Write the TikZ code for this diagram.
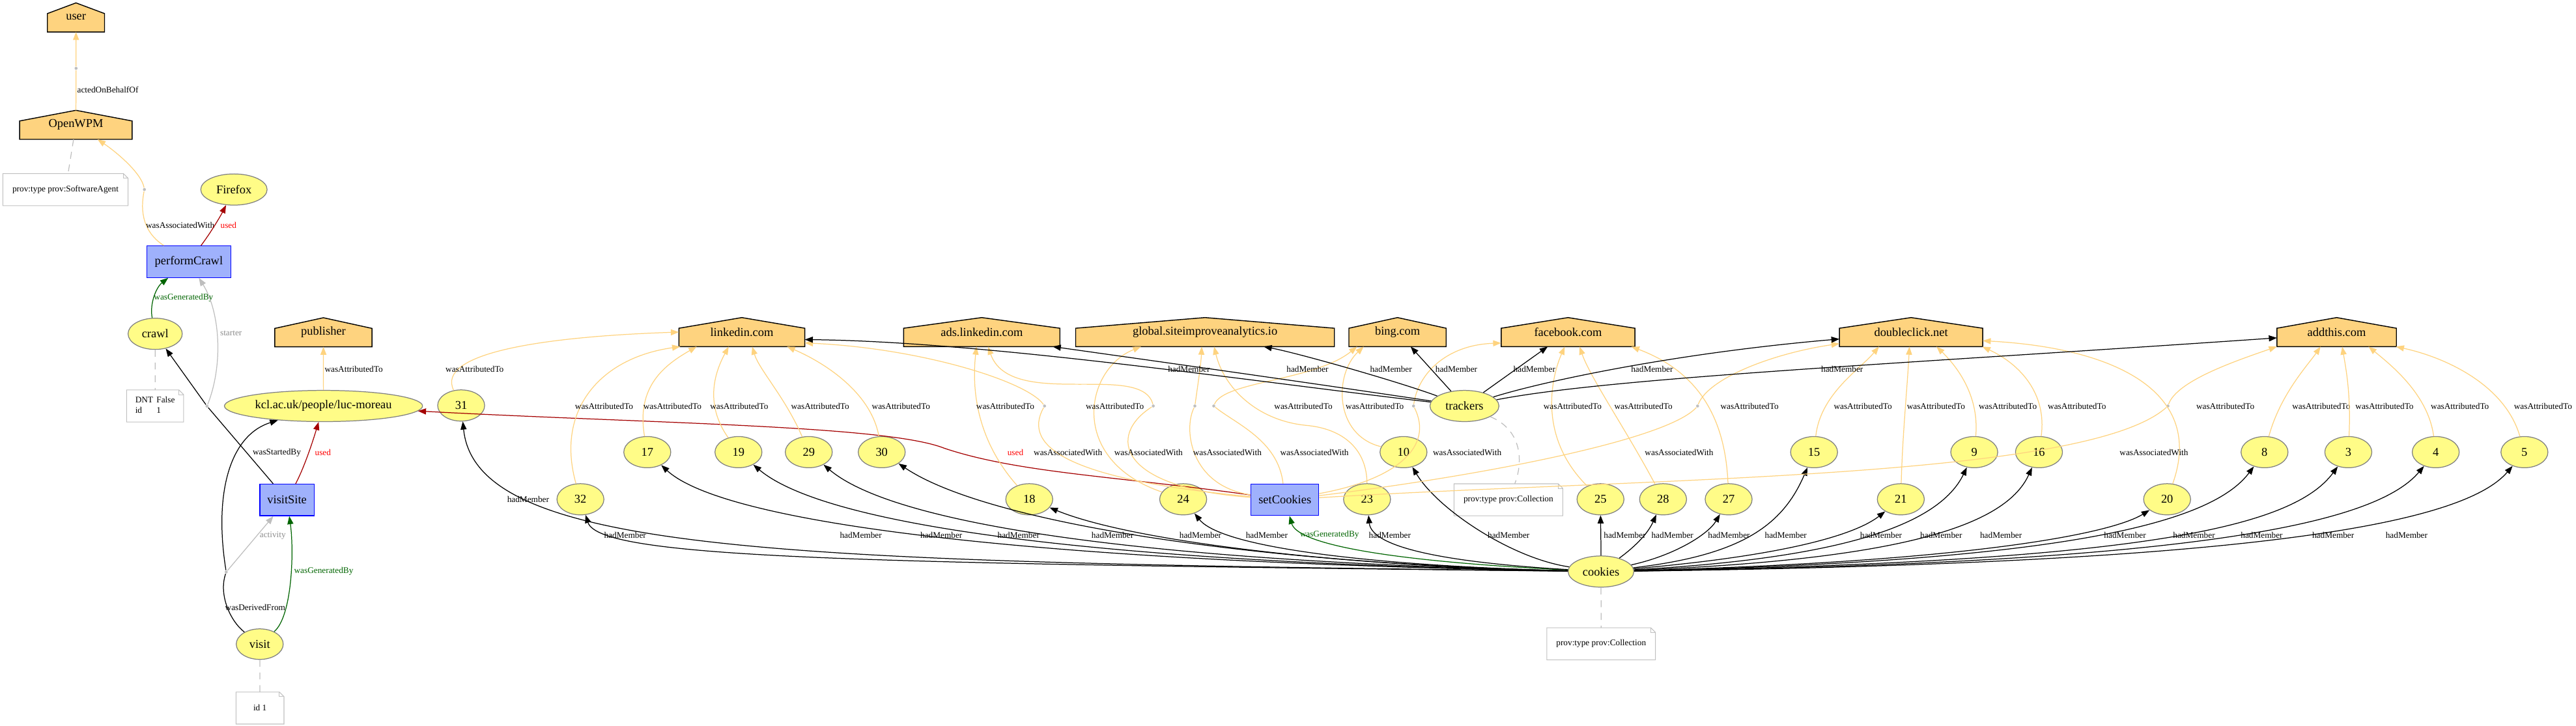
\documentclass[tikz,border=0pt]{standalone}
\usepackage{fontspec}
\setmainfont{Liberation Serif}
\usetikzlibrary{arrows.meta,shapes.geometric,backgrounds}

\definecolor{agentfill}{HTML}{FED37F}
\definecolor{entfill}{HTML}{FFFC87}
\definecolor{entline}{HTML}{808080}
\definecolor{actfill}{HTML}{9FB1FC}
\definecolor{usedline}{HTML}{A40000}
\definecolor{genline}{HTML}{006400}
\definecolor{auxgray}{HTML}{BEBEBE}
\definecolor{auxtext}{HTML}{8C8C8C}
\definecolor{notegray}{HTML}{C0C0C0}

\newcommand{\nodefont}{\fontsize{10.4}{12}\selectfont}
\newcommand{\lblfont}{\fontsize{7.5}{9}\selectfont}

\tikzset{
  agent/.style={rectangle, minimum height=0.86cm, inner sep=1pt, font=\nodefont},
  ent/.style={ellipse, draw=entline, fill=entfill, minimum width=1.43cm, minimum height=0.95cm, inner sep=1pt, font=\nodefont},
  act/.style={rectangle, draw=blue, fill=actfill, minimum height=0.96cm, inner sep=1pt, font=\nodefont},
  note/.style={rectangle, minimum height=0.95cm, inner sep=1pt, font=\lblfont},
  blank/.style={circle, fill=auxgray, inner sep=0pt, minimum size=2.6pt},
  lbl/.style={font=\lblfont, anchor=west, inner sep=0pt},
  hm/.style={->, black},
  attr/.style={agentfill},
  used/.style={->, usedline},
  gen/.style={->, genline},
  aux/.style={->, auxgray},
  link/.style={auxgray, dash pattern=on 6pt off 5pt},
}

\begin{document}
\begin{tikzpicture}[x=0.05cm, y=-0.05cm, line width=0.7pt, >={Triangle[length=7pt,width=5.2pt]}]
\useasboundingbox (0,0) rectangle (1568,442);

\node[agent, minimum width=1.715cm] (user) at (46.25,10.6) {user};
\node[agent, minimum width=3.4cm] (wpm) at (46.2,76) {OpenWPM};
\node[agent, minimum width=2.935cm] (pub) at (196.85,202.3) {publisher};
\node[agent, minimum width=3.805cm] (li) at (451.55,202.2) {linkedin.com};
\node[agent, minimum width=4.73cm] (adsli) at (597.6,202.2) {ads.linkedin.com};
\node[agent, minimum width=7.85cm] (gsi) at (733.5,202.2) {global.siteimproveanalytics.io};
\node[agent, minimum width=2.935cm] (bing) at (850.65,202.2) {bing.com};
\node[agent, minimum width=4.045cm] (fb) at (954.45,202.2) {facebook.com};
\node[agent, minimum width=4.335cm] (dc) at (1163.25,202.2) {doubleclick.net};
\node[agent, minimum width=3.61cm] (adt) at (1422.3,202.2) {addthis.com};

\begin{scope}[on background layer]
\foreach \a in {user,wpm,pub,li,adsli,gsi,bing,fb,dc,adt}
  \draw[fill=agentfill, line width=0.8pt] (\a.south west) -- (\a.south east) -- ([yshift=-9.25pt]\a.north east)
    -- (\a.north) -- ([yshift=-9.25pt]\a.north west) -- cycle;
\end{scope}

\node[act, minimum width=2.545cm] (pc) at (114.95,159.35) {performCrawl};
\node[act, minimum width=1.65cm] (vs) at (174.7,304.4) {visitSite};
\node[act, minimum width=2.06cm] (sc) at (782.1,304.3) {setCookies};

\node[ent, minimum width=2.02cm] (ffx) at (142.4,115.4) {Firefox};
\node[ent, minimum width=1.65cm] (crawl) at (94.45,203.25) {crawl};
\node[ent, minimum width=6.03cm] (kcl) at (196.9,247.2) {kcl.ac.uk/people/luc-moreau};
\node[ent, minimum height=0.93cm] (visit) at (158.1,392.2) {visit};
\node[ent, minimum width=2.1cm] (trk) at (891.4,247.2) {trackers};
\node[ent, minimum width=2cm] (ck) at (974.5,348) {cookies};

\foreach \n/\x/\y in {31/280.7/246.9, 17/394/275.3, 19/449.5/275.3, 29/492.3/275.3, 30/536.7/275.3,
    10/854.3/275.3, 15/1104.2/275.3, 9/1201.7/275.3, 16/1241.1/275.3, 8/1378.4/275.3, 3/1429.4/275.3,
    4/1482.6/275.3, 5/1536.6/275.3, 32/353.3/304, 18/626.5/304, 24/720.2/304, 23/832.1/304,
    25/974.2/304, 28/1012.3/304, 27/1052.2/304, 21/1157/304, 20/1319.1/304}
  \node[ent] (e\n) at (\x,\y) {\n};

\node[note, minimum width=3.785cm] (snote) at (39.85,115.45) {prov:type prov:SoftwareAgent};
\node[note, minimum width=1.71cm] (dnt) at (94.4,247.2)
    {\begin{tabular}{@{}l@{\hspace{3pt}}l@{}}DNT&False\\id&1\end{tabular}};
\node[note, minimum width=1.435cm] (vnote) at (158.25,431.1) {id 1};
\node[note, minimum width=3.285cm] (trknote) at (918.15,304.3) {prov:type prov:Collection};
\node[note, minimum width=3.28cm] (cknote) at (974.6,392) {prov:type prov:Collection};

\foreach \n in {snote,dnt,vnote,trknote,cknote}{
  \draw[notegray, line width=0.6pt] (\n.south west) -- (\n.south east) -- ([yshift=-4pt]\n.north east)
    -- ([xshift=-4pt]\n.north east) -- (\n.north west) -- cycle;
  \draw[notegray, line width=0.6pt] ([xshift=-4pt]\n.north east) |- ([yshift=-4pt]\n.north east);
}

\node[blank] (dwpm) at (46.3,41.6) {};
\node[blank] (dpc) at (87.9,115.4) {};
\node[blank] (dst) at (126,247.3) {};
\node[blank] (dder) at (137.7,348.3) {};
\foreach \d/\x in {1/635.8, 2/702, 3/727.3, 4/738.8, 5/860.4, 6/1033.3, 7/1319.6}
  \node[blank] (d\d) at (\x,247.2) {};

% crawl side
\draw[attr] (wpm) -- (dwpm);
\draw[attr,->] (dwpm) -- (user);
\node[lbl] (lobo) at (46.8,54.6) {actedOnBehalfOf};
\draw[link] (wpm) -- (snote);
\draw[attr] (pc) .. controls (85,140) and (86,125) .. (dpc);
\draw[attr,->] (dpc) .. controls (86,105) and (70,92) .. (wpm);
\node[lbl] (lawpc) at (88.6,137.1) {wasAssociatedWith};
\draw[used] (pc) .. controls (128,142) and (134,132) .. (ffx);
\node[lbl, text=red] (lupc) at (134,137.1) {used};
\draw[gen] (crawl) .. controls (91,185) and (95,175) .. (pc);
\node[lbl, text=genline] (lgcr) at (93.5,181.2) {wasGeneratedBy};
\draw[aux] (dst) .. controls (136,222) and (134,190) .. (pc);
\node[lbl, text=auxtext] (lstart) at (133.8,203) {starter};
\draw (vs) -- (dst);
\draw[->] (dst) -- (crawl);
\node[lbl] (lwsb) at (153.6,275.7) {wasStartedBy};
\draw[link] (crawl) -- (dnt);
\draw[attr,->] (kcl) -- (pub);
\node[lbl] (lwatk) at (197.4,224.8) {wasAttributedTo};
\draw[used] (vs) .. controls (185,285) and (190,270) .. (kcl);
\node[lbl, text=red] (luvs) at (191.5,275.7) {used};
\draw[gen] (visit) .. controls (178,375) and (179,335) .. (vs);
\node[lbl, text=genline] (lgvs) at (178.8,347.8) {wasGeneratedBy};
\draw (visit) .. controls (140,378) and (133,362) .. (dder);
\draw[->] (dder) .. controls (130,300) and (140,265) .. (kcl);
\node[lbl] (lwdf) at (136.8,370) {wasDerivedFrom};
\draw[aux] (dder) -- (vs);
\node[lbl, text=auxtext] (lactv) at (157.9,326.1) {activity};
\draw[link] (visit) -- (vnote);

% cookies and trackers
\draw[used] (sc) .. controls (680,290) and (620,288) .. (575,273) .. controls (540,259) and (400,258) .. (kcl);
\node[lbl, text=red] (lusc) at (613,275.6) {used};
\draw[gen] (ck) .. controls (850,342) and (790,332) .. (sc);
\node[lbl, text=genline] (lgsc) at (791,325.8) {wasGeneratedBy};
\draw[link] (ck) -- (cknote);
\draw[link] (trk) .. controls (927,262) and (927,282) .. (trknote);

\foreach \n/\ax/\ay/\bx/\by/\lx/\ly in {31/480/342/290/338/308.5/304, 32/520/343/365/340/367.5/325.8,
    17/620/342/440/318/511/325.8, 19/650/342/500/318/560/325.8, 29/700/342/545/320/607/325.8,
    30/760/343/600/318/664.2/325.8, 18/820/345/690/330/717.7/325.8, 24/850/345/745/335/758.1/325.8,
    23/890/343/835/335/833/325.8, 10/920/340/875/310/905.3/325.8, 25/974.5/330/974.3/320/976/325.8,
    28/995/333/1003/325/1005/325.8, 27/1020/338/1040/325/1039.4/325.8, 15/1060/338/1085/320/1074/325.8,
    21/1090/338/1130/325/1132/325.8, 9/1120/340/1180/320/1168.6/325.8, 16/1150/341/1220/322/1205/325.8,
    20/1200/342/1285/325/1280.5/325.8, 8/1250/342/1345/320/1322.5/325.8, 3/1300/342/1395/322/1363.7/325.8,
    4/1330/343/1445/320/1407.2/325.8, 5/1380/343/1500/318/1451.9/325.8}{
  \draw[hm] (ck) .. controls (\ax,\ay) and (\bx,\by) .. (e\n);
  \node[lbl] (lhm\n) at (\lx,\ly) {hadMember};
}

\draw[attr,->] (e31) .. controls (265,215) and (330,205) .. (li.west);
\node[lbl] (lwat31) at (271,224.7) {wasAttributedTo};
\foreach \n/\a/\dx/\ax/\ay/\bx/\by/\lx in {32/li/-1.875/338/250/365/218/349.8, 17/li/-1.375/387/235/405/222/391.4,
    19/li/-0.4/428/245/436/225/432, 29/li/0.315/478/242/462/225/481.3, 30/li/1.375/530/238/500/220/530.5,
    18/adsli/-0.16/592/265/592/232/594, 24/gsi/-1.95/650/280/660/225/660.7, 10/bing/-1.03/812/265/812/228/818.9,
    25/fb/-0.1/935/265/945/228/939.3, 28/fb/0.35/990/262/968/230/982.4, 27/fb/1.925/1050/250/1030/225/1047,
    15/dc/-0.975/1108/240/1132/225/1116, 21/dc/-0.05/1158/265/1161/235/1160.5, 9/dc/0.775/1205/240/1190/222/1204.2,
    16/dc/2.1675/1246/240/1230/222/1246.3, 8/adt/-0.49/1388/240/1405/222/1395, 3/adt/0.17/1431/240/1428/225/1433.5,
    4/adt/0.97/1478/240/1455/222/1479.4, 5/adt/1.805/1525/235/1490/218/1530}{
  \draw[attr,->] (e\n) .. controls (\ax,\ay) and (\bx,\by) .. ([xshift=\dx cm]\a.south);
  \node[lbl] (lwat\n) at (\lx,247.2) {wasAttributedTo};
}
\draw[attr,->] (e23) .. controls (832,274) and (818,261) .. (795,259) .. controls (765,256) and (745,236) .. ([xshift=0.275cm]gsi.south);
\node[lbl] (lwat23) at (775.4,247.2) {wasAttributedTo};
\draw[attr,->] (e20) .. controls (1342,240) and (1290,212) .. ([yshift=-7.5pt]dc.east);
\node[lbl] (lwat20) at (1336.6,247.2) {wasAttributedTo};

\foreach \n/\ax/\ay/\bx/\by/\lx in {1/650/292/622/272/629, 2/680/297/674/265/678, 3/725/296/720/262/726,
    4/778/268/752/258/779, 5/850/292/873/272/872, 6/900/290/1015/268/1001, 7/1000/291/1270/292/1290}{
  \draw[attr] (sc) .. controls (\ax,\ay) and (\bx,\by) .. (d\n);
  \node[lbl] (lwaw\n) at (\lx,275.6) {wasAssociatedWith};
}
\draw[attr,->] (d1) .. controls (625,232) and (560,212) .. ([yshift=-9.4pt]li.east);
\draw[attr,->] (d2) .. controls (695,220) and (615,250) .. ([xshift=0.19cm]adsli.south);
\draw[attr,->] (d3) .. controls (729,235) and (731,222) .. ([xshift=-0.1cm]gsi.south);
\draw[attr,->] (d4) .. controls (745,232) and (800,232) .. ([xshift=-1.23cm]bing.south);
\draw[attr,->] (d5) .. controls (863,228) and (880,210) .. ([yshift=-9.5pt]fb.west);
\draw[attr,->] (d6) .. controls (1040,230) and (1080,215) .. ([yshift=-10pt]dc.west);
\draw[attr,->] (d7) .. controls (1325,232) and (1360,220) .. (adt.south west);

\draw[hm] (trk) .. controls (760,232) and (600,208) .. ([yshift=-6.5pt]li.east);
\draw[hm] (trk) .. controls (790,232) and (690,218) .. ([xshift=2.16cm]adsli.south);
\draw[hm] (trk) .. controls (850,232) and (790,215) .. ([xshift=1.785cm]gsi.south);
\draw[hm] (trk) -- (bing);
\draw[hm] (trk) -- (fb);
\draw[hm] (trk) .. controls (940,232) and (1020,215) .. ([yshift=-6pt]dc.west);
\draw[hm] (trk) .. controls (980,230) and (1150,222) .. ([yshift=-5pt]adt.west);
\foreach \i/\x in {1/710.7, 2/782.9, 3/833.7, 4/873.5, 5/921, 6/992.6, 7/1108.3}
  \node[lbl] (lhmt\i) at (\x,224.7) {hadMember};
\end{tikzpicture}
\end{document}
